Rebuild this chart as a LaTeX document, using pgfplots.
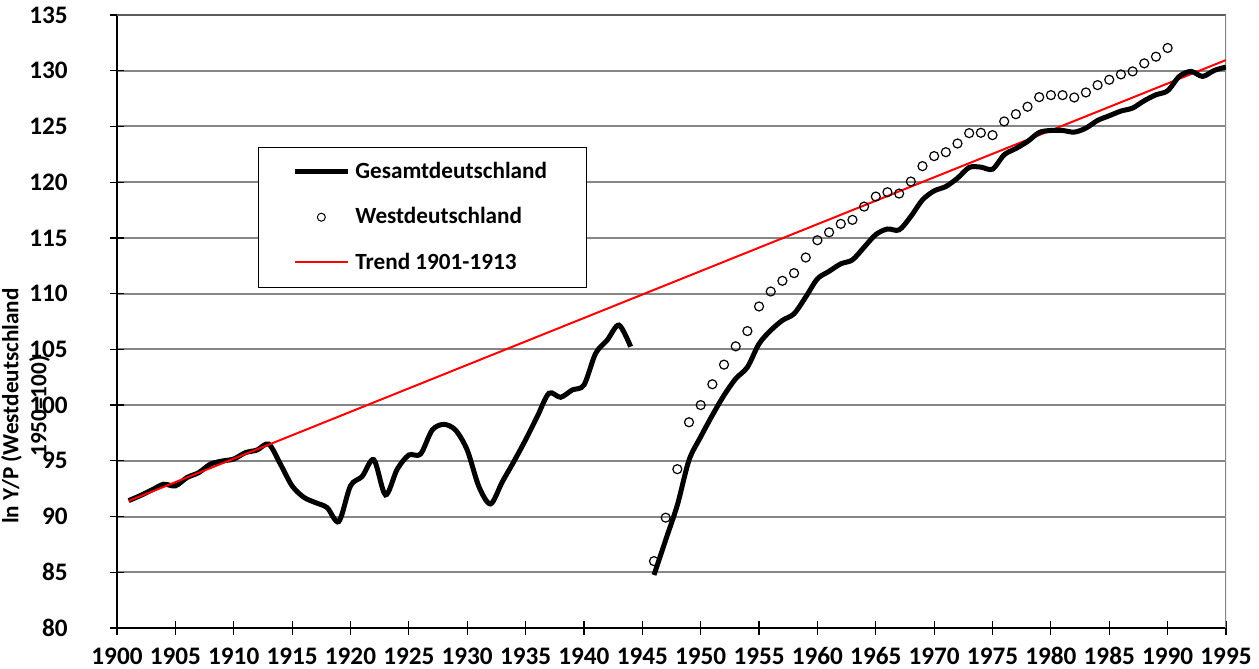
\documentclass[border=0pt]{standalone}
\usepackage{fontspec}
\setmainfont{Carlito}
\usepackage{pgfplots}
\pgfplotsset{compat=1.18}
\definecolor{gridgray}{RGB}{134,134,134}
\definecolor{framegray}{RGB}{90,90,90}
\definecolor{trendred}{RGB}{255,0,0}
\newcommand{\tlfont}{\bfseries\fontsize{12.6}{15}\selectfont}
\begin{document}
\begin{tikzpicture}
\useasboundingbox (-58.5pt,-20.5pt) rectangle (571pt,314pt);
\begin{axis}[
  at={(0,0)}, anchor=south west,
  scale only axis, width=554.5pt, height=306.5pt,
  xmin=1900, xmax=1995, ymin=80, ymax=135,
  xtick={1900,1905,...,1995}, ytick={80,85,...,135},
  axis lines*=left,
  axis line style={black, line width=0.75pt},
  tick align=center, major tick length=7pt,
  tick style={black, line width=0.6pt},
  ymajorgrids, major grid style={gridgray, line width=1pt},
  /pgf/number format/assume math mode=true,
  /pgf/number format/1000 sep={},
  xticklabel={\tlfont\pgfmathprintnumber{\tick}},
  yticklabel={\tlfont\pgfmathprintnumber{\tick}},
  every tick label/.append style={font=\tlfont},
  xticklabel style={anchor=north, inner sep=0pt, text height=8.2pt, text depth=0pt, yshift=-6.5pt},
  yticklabel style={anchor=east, inner sep=0pt, xshift=-21pt},
  ylabel={ln Y/P (Westdeutschland\\1950=100)},
  every axis y label/.style={at={(axis description cs:-0.0825,0.362)}, rotate=90, anchor=center, align=center, font=\bfseries\fontsize{11.6}{14}\selectfont},
  legend cell align=left,
  legend style={at={(rel axis cs:0.127,0.785)}, anchor=north west, draw=black, line width=0.5pt, fill=white,
    font=\bfseries\fontsize{11.6}{13}\selectfont, inner xsep=17pt, inner ysep=5.5pt, row sep=9pt,
    nodes={inner xsep=2.5pt}},
]
\draw[framegray, line width=0.8pt] (rel axis cs:0,1) -- (rel axis cs:1,1);
\draw[gridgray, line width=0.8pt] (rel axis cs:1,1) -- (rel axis cs:1,0);
\addplot[black, line width=2.5pt, smooth, legend image code/.code={\draw[black, line width=2.5pt] (0pt,0pt) -- (26.5pt,0pt);}] coordinates {
(1901,91.43) (1902,91.88) (1903,92.39) (1904,92.90) (1905,92.75) (1906,93.50) (1907,93.94) (1908,94.70) (1909,94.98) (1910,95.16)
(1911,95.73) (1912,95.97) (1913,96.50) (1914,94.70) (1915,92.75) (1916,91.73) (1917,91.25) (1918,90.80) (1919,89.55) (1920,92.75)
(1921,93.60) (1922,95.10) (1923,91.94) (1924,94.24) (1925,95.52) (1926,95.60) (1927,97.76) (1928,98.27) (1929,97.76) (1930,95.97)
(1931,92.69) (1932,91.13) (1933,93.10) (1934,94.94) (1935,96.88) (1936,98.97) (1937,101.06) (1938,100.70) (1939,101.36) (1940,101.80)
(1941,104.64) (1942,105.84) (1943,107.18) (1944,105.24)
};
\addlegendentry{Gesamtdeutschland}
\addplot[only marks, mark=o, mark size=2.25pt, mark options={black, fill=white, line width=0.6pt},
  legend image code/.code={\draw[black, fill=white, line width=0.5pt] (13.25pt,0pt) circle (2pt);}] coordinates {
(1946,86.0) (1947,89.9) (1948,94.25) (1949,98.46) (1950,100.0) (1951,101.87) (1952,103.63) (1953,105.27) (1954,106.64) (1955,108.85)
(1956,110.19) (1957,111.15) (1958,111.84) (1959,113.24) (1960,114.79) (1961,115.5) (1962,116.26) (1963,116.62) (1964,117.81) (1965,118.71)
(1966,119.1) (1967,118.98) (1968,120.06) (1969,121.44) (1970,122.34) (1971,122.69) (1972,123.47) (1973,124.4) (1974,124.43) (1975,124.22)
(1976,125.45) (1977,126.1) (1978,126.77) (1979,127.63) (1980,127.81) (1981,127.81) (1982,127.6) (1983,128.05) (1984,128.71) (1985,129.19)
(1986,129.67) (1987,129.94) (1988,130.66) (1989,131.26) (1990,132.04)
};
\addlegendentry{Westdeutschland}
\addplot[trendred, line width=1pt, legend image code/.code={\draw[trendred, line width=1pt] (0pt,0pt) -- (26.5pt,0pt);}] coordinates {(1901,91.4) (1995,130.96)};
\addlegendentry{Trend 1901-1913}
\addplot[black, line width=2.5pt, smooth, forget plot] coordinates {
(1946,84.76) (1947,87.9) (1948,91.03) (1949,95.06) (1950,97.15) (1951,99.09) (1952,100.88) (1953,102.37) (1954,103.4) (1955,105.5)
(1956,106.7) (1957,107.6) (1958,108.2) (1959,109.7) (1960,111.33) (1961,112.0) (1962,112.67) (1963,113.03) (1964,114.16) (1965,115.3)
(1966,115.8) (1967,115.72) (1968,116.92) (1969,118.41) (1970,119.22) (1971,119.61) (1972,120.36) (1973,121.32) (1974,121.35) (1975,121.17)
(1976,122.46) (1977,123.02) (1978,123.65) (1979,124.46) (1980,124.64) (1981,124.64) (1982,124.49) (1983,124.85) (1984,125.54) (1985,125.96)
(1986,126.38) (1987,126.65) (1988,127.31) (1989,127.84) (1990,128.2) (1991,129.49) (1992,129.94) (1993,129.49) (1994,130.03) (1995,130.33)
};
\end{axis}
\end{tikzpicture}
\end{document}
